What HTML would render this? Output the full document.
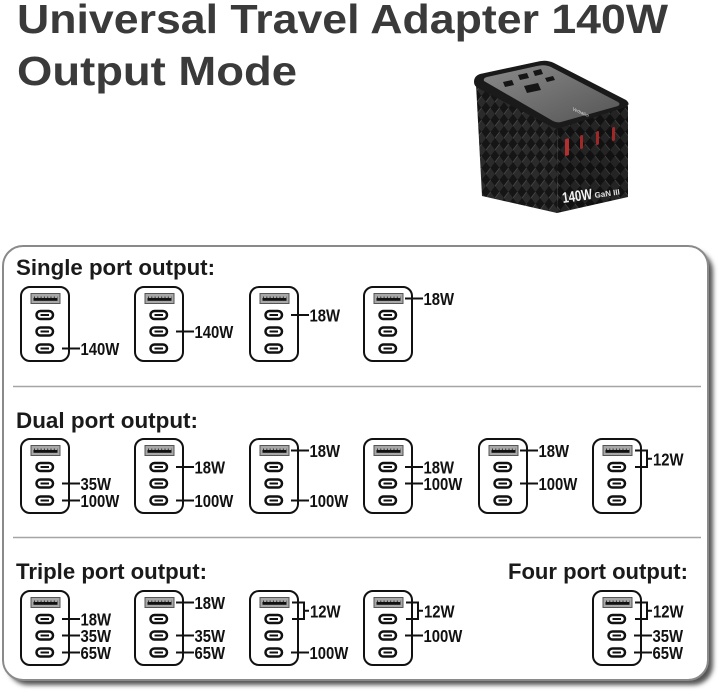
<!DOCTYPE html>
<html>
<head>
<meta charset="utf-8">
<style>
  html,body{margin:0;padding:0;background:#fff;}
  body{width:720px;height:694px;overflow:hidden;}
  svg{display:block;}
  .t{font-family:"Liberation Sans",Arial,sans-serif;font-weight:bold;}
  .lb{font-family:"Liberation Sans",Arial,sans-serif;font-weight:bold;font-size:17.5px;fill:#111;}
  .hd{font-family:"Liberation Sans",Arial,sans-serif;font-weight:bold;font-size:22px;fill:#1a1a1a;}
</style>
</head>
<body>
<svg width="720" height="694" viewBox="0 0 720 694" xmlns="http://www.w3.org/2000/svg">
  <defs>
    <filter id="blur" x="-5%" y="-5%" width="110%" height="110%">
      <feGaussianBlur stdDeviation="2.5"/>
    </filter>
    <pattern id="diam" width="9" height="12" patternUnits="userSpaceOnUse">
      <rect width="9" height="12" fill="#151515"/>
      <path d="M0 6 L4.5 0 L9 6 L4.5 12 Z" fill="#2b2b2b"/>
      <path d="M0 6 L4.5 0" stroke="#4a4a4a" stroke-width="0.7"/>
    </pattern>
    <pattern id="diam2" width="10" height="12" patternUnits="userSpaceOnUse">
      <rect width="10" height="12" fill="#111"/>
      <path d="M0 6 L5 0 L10 6 L5 12 Z" fill="#242424"/>
      <path d="M5 0 L10 6" stroke="#444" stroke-width="0.7"/>
    </pattern>
    <linearGradient id="topg" x1="0" y1="0" x2="1" y2="1">
      <stop offset="0" stop-color="#8a8a8a"/>
      <stop offset="1" stop-color="#555"/>
    </linearGradient>
    <g id="dev">
      <rect x="1" y="1" width="48" height="74" rx="9" fill="#fff" stroke="#111" stroke-width="2"/>
      <rect x="11" y="7.5" width="29" height="10" fill="#a8a8a8" stroke="#555" stroke-width="1"/>
      <rect x="13.5" y="12" width="24" height="2.8" fill="#111"/>
      <line x1="14" y1="11.2" x2="37.5" y2="11.2" stroke="#111" stroke-width="1.2" stroke-dasharray="1 2.3"/>
      <rect x="16.5" y="25" width="16.5" height="8" rx="4" fill="#fff" stroke="#111" stroke-width="2.5"/>
      <line x1="20.5" y1="29" x2="29" y2="29" stroke="#111" stroke-width="2"/>
      <rect x="16.5" y="41.5" width="16.5" height="8" rx="4" fill="#fff" stroke="#111" stroke-width="2.5"/>
      <line x1="20.5" y1="45.5" x2="29" y2="45.5" stroke="#111" stroke-width="2"/>
      <rect x="16.5" y="58.5" width="16.5" height="8" rx="4" fill="#fff" stroke="#111" stroke-width="2.5"/>
      <line x1="20.5" y1="62.5" x2="29" y2="62.5" stroke="#111" stroke-width="2"/>
    </g>
  </defs>

  <!-- Title -->
  <text class="t" x="17" y="33" font-size="41" fill="#3a3a3a" textLength="651" lengthAdjust="spacingAndGlyphs">Universal Travel Adapter 140W</text>
  <text class="t" x="17" y="85" font-size="41" fill="#3a3a3a" textLength="280" lengthAdjust="spacingAndGlyphs">Output Mode</text>

  <!-- Device photo -->
  <g>
    <path d="M476 84 L558 126 L557 213 L482 196 Z" fill="url(#diam)"/>
    <path d="M558 126 L628 106 L628 197 L557 213 Z" fill="url(#diam2)"/>
    <path d="M474 82 Q474 76 480 74 L536 62 Q546 59 554 63 L626 100 Q631 104 626 107 L560 128 Q556 129 552 127 L478 88 Q474 86 474 82 Z" fill="#1a1a1a"/>
    <path d="M484 81 Q483 78 487 77 L537 66 Q545 64 551 67 L618 102 Q621 104 618 106 L561 122 Q557 123 553 121 Z" fill="url(#topg)"/>
    <path d="M518 75 L527 73 L529 78 L520 80 Z" fill="#151515"/>
    <path d="M533 71 L541 69 L543 74 L535 76 Z" fill="#151515"/>
    <path d="M503 82 L512 80 L514 85 L505 87 Z" fill="#151515"/>
    <path d="M524 86 L538 83 L541 90 L527 93 Z" fill="#151515"/>
    <path d="M545 78 L553 76 L555 80 L547 82 Z" fill="#151515"/>
    <text x="572" y="110" font-family="Liberation Sans,sans-serif" font-size="4.5" fill="#ddd" transform="rotate(24 572 110)">Verbatim</text>
    <rect x="565" y="139" width="4" height="17" rx="1" fill="#b33030" transform="skewY(-14) translate(0 141)"/>
    <rect x="580" y="135" width="3" height="14" rx="1.5" fill="#a02828" transform="skewY(-14) translate(0 145)"/>
    <rect x="596" y="131" width="3" height="14" rx="1.5" fill="#a02828" transform="skewY(-14) translate(0 149)"/>
    <rect x="612" y="127" width="3" height="14" rx="1.5" fill="#a02828" transform="skewY(-14) translate(0 153)"/>
    <text x="563" y="203" font-family="Liberation Sans,sans-serif" font-weight="bold" font-size="15" fill="#f2f2f2" transform="rotate(-8 563 203)" textLength="30" lengthAdjust="spacingAndGlyphs">140W</text>
    <text x="595" y="198" font-family="Liberation Sans,sans-serif" font-weight="bold" font-size="8" fill="#e0e0e0" transform="rotate(-8 595 198)">GaN III</text>
  </g>

  <!-- Panel -->
  <rect x="8" y="251" width="705" height="434" rx="20" fill="#555" filter="url(#blur)"/>
  <rect x="3" y="246" width="705" height="434" rx="20" fill="#fff" stroke="#8a8a8a" stroke-width="2"/>
  <line x1="13" y1="386.5" x2="701" y2="386.5" stroke="#a5a5a5" stroke-width="1.5"/>
  <line x1="13" y1="537.5" x2="701" y2="537.5" stroke="#a5a5a5" stroke-width="1.5"/>

  <text class="hd" x="16" y="275" textLength="199" lengthAdjust="spacingAndGlyphs">Single port output:</text>
  <text class="hd" x="16" y="428" textLength="182" lengthAdjust="spacingAndGlyphs">Dual port output:</text>
  <text class="hd" x="16" y="579" textLength="191" lengthAdjust="spacingAndGlyphs">Triple port output:</text>
  <text class="hd" x="508" y="579" textLength="180" lengthAdjust="spacingAndGlyphs">Four port output:</text>

  <!-- Icons -->
  <use href="#dev" x="20" y="286"/>
  <use href="#dev" x="134" y="286"/>
  <use href="#dev" x="249" y="286"/>
  <use href="#dev" x="363" y="286"/>

  <use href="#dev" x="20" y="438"/>
  <use href="#dev" x="134" y="438"/>
  <use href="#dev" x="249" y="438"/>
  <use href="#dev" x="363" y="438"/>
  <use href="#dev" x="478" y="438"/>
  <use href="#dev" x="592" y="438"/>

  <use href="#dev" x="20" y="590"/>
  <use href="#dev" x="134" y="590"/>
  <use href="#dev" x="249" y="590"/>
  <use href="#dev" x="363" y="590"/>
  <use href="#dev" x="592" y="590"/>

  <!-- Connectors -->
  <g stroke="#111" stroke-width="2" fill="none">
    <line x1="62" y1="348.5" x2="80" y2="348.5"/>
    <line x1="176" y1="331.5" x2="194" y2="331.5"/>
    <line x1="291" y1="315" x2="309" y2="315"/>
    <line x1="405" y1="298.5" x2="423" y2="298.5"/>

    <line x1="62" y1="483.5" x2="80" y2="483.5"/>
    <line x1="62" y1="500.5" x2="80" y2="500.5"/>
    <line x1="176" y1="467" x2="194" y2="467"/>
    <line x1="176" y1="500.5" x2="194" y2="500.5"/>
    <line x1="291" y1="450.5" x2="309" y2="450.5"/>
    <line x1="291" y1="500.5" x2="309" y2="500.5"/>
    <line x1="405" y1="467" x2="423" y2="467"/>
    <line x1="405" y1="483.5" x2="423" y2="483.5"/>
    <line x1="520" y1="450.5" x2="538" y2="450.5"/>
    <line x1="520" y1="483.5" x2="538" y2="483.5"/>
    <path d="M635 450.5 H647 V467 H635 M647 458.75 H652"/>

    <line x1="62" y1="619" x2="80" y2="619"/>
    <line x1="62" y1="635.5" x2="80" y2="635.5"/>
    <line x1="62" y1="652.5" x2="80" y2="652.5"/>
    <line x1="176" y1="602.5" x2="194" y2="602.5"/>
    <line x1="176" y1="635.5" x2="194" y2="635.5"/>
    <line x1="176" y1="652.5" x2="194" y2="652.5"/>
    <path d="M292 602.5 H304 V619 H292 M304 610.75 H309"/>
    <line x1="291" y1="652.5" x2="309" y2="652.5"/>
    <path d="M406 602.5 H418 V619 H406 M418 610.75 H423"/>
    <line x1="405" y1="635.5" x2="423" y2="635.5"/>
    <path d="M635 602.5 H647 V619 H635 M647 610.75 H652"/>
    <line x1="634" y1="635.5" x2="652" y2="635.5"/>
    <line x1="634" y1="652.5" x2="652" y2="652.5"/>
  </g>

  <!-- Labels -->
  <g class="lb">
    <text transform="translate(80.5 355) scale(0.85 1)">140W</text>
    <text transform="translate(194.5 338) scale(0.85 1)">140W</text>
    <text transform="translate(309.5 321.5) scale(0.85 1)">18W</text>
    <text transform="translate(423.5 305) scale(0.85 1)">18W</text>

    <text transform="translate(80.5 490) scale(0.85 1)">35W</text>
    <text transform="translate(80.5 507) scale(0.85 1)">100W</text>
    <text transform="translate(194.5 473.5) scale(0.85 1)">18W</text>
    <text transform="translate(194.5 507) scale(0.85 1)">100W</text>
    <text transform="translate(309.5 457) scale(0.85 1)">18W</text>
    <text transform="translate(309.5 507) scale(0.85 1)">100W</text>
    <text transform="translate(423.5 473.5) scale(0.85 1)">18W</text>
    <text transform="translate(423.5 490) scale(0.85 1)">100W</text>
    <text transform="translate(538.5 457) scale(0.85 1)">18W</text>
    <text transform="translate(538.5 490) scale(0.85 1)">100W</text>
    <text transform="translate(653 465.25) scale(0.85 1)">12W</text>

    <text transform="translate(80.5 625.5) scale(0.85 1)">18W</text>
    <text transform="translate(80.5 642) scale(0.85 1)">35W</text>
    <text transform="translate(80.5 659) scale(0.85 1)">65W</text>
    <text transform="translate(194.5 609) scale(0.85 1)">18W</text>
    <text transform="translate(194.5 642) scale(0.85 1)">35W</text>
    <text transform="translate(194.5 659) scale(0.85 1)">65W</text>
    <text transform="translate(310 617.25) scale(0.85 1)">12W</text>
    <text transform="translate(309.5 659) scale(0.85 1)">100W</text>
    <text transform="translate(424 617.25) scale(0.85 1)">12W</text>
    <text transform="translate(423.5 642) scale(0.85 1)">100W</text>
    <text transform="translate(653 617.25) scale(0.85 1)">12W</text>
    <text transform="translate(652.5 642) scale(0.85 1)">35W</text>
    <text transform="translate(652.5 659) scale(0.85 1)">65W</text>
  </g>
</svg>
</body>
</html>
